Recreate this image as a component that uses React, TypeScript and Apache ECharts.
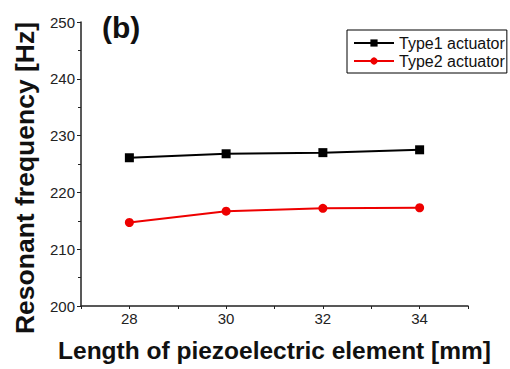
import React, { useEffect, useRef } from "react";
import * as echarts from "echarts";

const lengths = [28, 30, 32, 34];
const type1 = [226.1, 226.8, 227.0, 227.5];
const type2 = [214.7, 216.7, 217.2, 217.3];
const seriesNames = ["Type1 actuator", "Type2 actuator"];
const xTitle = "Length of piezoelectric element [mm]";
const yTitle = "Resonant frequency [Hz]";
const panelLabel = "(b)";

const FONT = "Liberation Sans, Arial, sans-serif";

export default function App() {
  const ref = useRef<HTMLDivElement>(null);
  useEffect(() => {
    if (!ref.current) return;
    const chart = echarts.init(ref.current, undefined, { renderer: "svg" });
    chart.setOption({
      animation: false,
      backgroundColor: "#fff",
      grid: { left: 81, top: 22, right: 42, bottom: 63, containLabel: false },
      legend: {
        orient: "vertical",
        left: 347,
        top: 30,
        padding: [5, 2, 4, 6],
        itemGap: 2,
        itemWidth: 40,
        itemHeight: 9,
        borderColor: "#000",
        borderWidth: 1,
        data: seriesNames,
        textStyle: { fontFamily: FONT, fontSize: 16, color: "#111" },
      },
      graphic: [
        {
          type: "text",
          left: 102,
          top: 12,
          style: { text: panelLabel, font: `bold 30px ${FONT}`, fill: "#111" },
        },
        {
          type: "text",
          x: 25,
          y: 178,
          rotation: Math.PI / 2,
          style: {
            text: yTitle,
            font: `bold 26.5px ${FONT}`,
            fill: "#111",
            align: "center",
            verticalAlign: "middle",
          },
        },
      ],
      xAxis: {
        type: "value",
        min: 27,
        max: 35,
        interval: 1,
        name: xTitle,
        nameLocation: "middle",
        nameGap: 32,
        nameTextStyle: { fontFamily: FONT, fontSize: 24.5, fontWeight: "bold", color: "#111" },
        axisLine: { show: true, lineStyle: { color: "#222", width: 1.5 } },
        axisTick: { show: true, inside: false, length: 3, lineStyle: { color: "#222" } },
        axisLabel: {
          fontFamily: FONT,
          fontSize: 15,
          color: "#222",
          margin: 5,
          formatter: (v: number) => (v % 2 === 0 ? String(v) : ""),
        },
        splitLine: { show: false },
      },
      yAxis: {
        type: "value",
        min: 200,
        max: 250,
        interval: 10,
        axisLine: { show: true, lineStyle: { color: "#222", width: 1.5 } },
        axisTick: { show: true, inside: false, length: 4, lineStyle: { color: "#222" } },
        minorTick: { show: true, splitNumber: 2, length: 3, lineStyle: { color: "#222" } },
        axisLabel: { fontFamily: FONT, fontSize: 15, color: "#222", margin: 6 },
        splitLine: { show: false },
      },
      series: [
        {
          name: seriesNames[0],
          type: "line",
          data: lengths.map((x, i) => [x, type1[i]]),
          symbol: "rect",
          symbolSize: 9,
          itemStyle: { color: "#000" },
          lineStyle: { color: "#000", width: 2 },
        },
        {
          name: seriesNames[1],
          type: "line",
          data: lengths.map((x, i) => [x, type2[i]]),
          symbol: "circle",
          symbolSize: 9,
          itemStyle: { color: "#ee0000" },
          lineStyle: { color: "#ee0000", width: 2 },
        },
      ],
    });
    return () => chart.dispose();
  }, []);
  return <div ref={ref} style={{ width: 510, height: 369, position: "absolute", left: 0, top: 0 }} />;
}
